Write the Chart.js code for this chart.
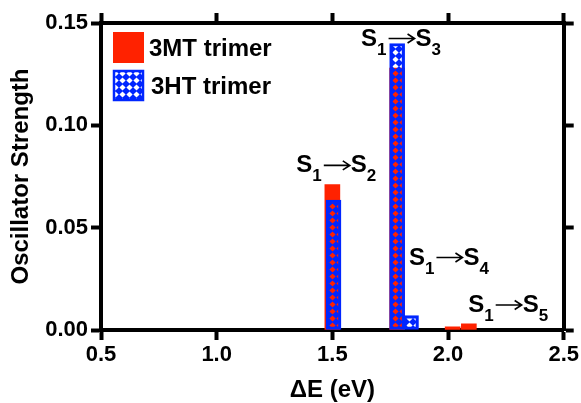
<!DOCTYPE html>
<html>
<head>
<meta charset="utf-8">
<script src="https://cdn.jsdelivr.net/npm/chart.js@4.4.0/dist/chart.umd.min.js"></script>
<style>
    html, body { margin: 0; padding: 0; background: #fff; }
</style>
</head>
<body>
<canvas id="oscChart" width="581" height="403"></canvas>
<script>
var seriesNames = ['3MT trimer', '3HT trimer'];
var mtEnergy = [1.50, 1.78, 2.02, 2.09];
var mtStrength = [0.071, 0.128, 0.0015, 0.003];
var htEnergy = [1.505, 1.78, 1.84];
var htStrength = [0.0635, 0.140, 0.007];
var xTickValues = [0.5, 1.0, 1.5, 2.0, 2.5];
var xTickLabels = ['0.5', '1.0', '1.5', '2.0', '2.5'];
var yTickValues = [0, 0.05, 0.10, 0.15];
var yTickLabels = ['0.00', '0.05', '0.10', '0.15'];
var transFrom = ['1', '1', '1', '1'];
var transTo = ['2', '3', '4', '5'];

var RED = '#ff2200';
var BLUE = '#0026ff';
var FONT = '"Liberation Sans", Arial, sans-serif';

Chart.defaults.font.family = FONT;
Chart.defaults.font.weight = 'bold';
Chart.defaults.color = '#000';

var canvas = document.getElementById('oscChart');
var ctx = canvas.getContext('2d');

// blue lattice with see-through diamond holes
function makeHatch(color) {
    var c = document.createElement('canvas');
    c.width = 7;
    c.height = 7;
    var g = c.getContext('2d');
    g.fillStyle = color;
    g.fillRect(0, 0, 7, 7);
    g.globalCompositeOperation = 'destination-out';
    g.beginPath();
    g.moveTo(3.5, 0.4);
    g.lineTo(6.6, 3.5);
    g.lineTo(3.5, 6.6);
    g.lineTo(0.4, 3.5);
    g.closePath();
    g.fill();
    return ctx.createPattern(c, 'repeat');
}
var hatch = makeHatch(BLUE);

function points(xs, ys) {
    return xs.map(function (x, i) { return { x: x, y: ys[i] }; });
}

// labels like S1->S2 placed in data units
var transitionLabels = {
    id: 'transitionLabels',
    afterDatasetsDraw: function (chart, args, opts) {
        var c = chart.ctx;
        var xs = chart.scales.x, ys = chart.scales.y;
        var big = 'bold 24px ' + FONT;
        var small = 'bold 17px ' + FONT;
        c.save();
        c.fillStyle = '#000';
        c.strokeStyle = '#000';
        c.textBaseline = 'alphabetic';
        c.textAlign = 'left';
        opts.items.forEach(function (it, i) {
            c.font = big;
            var wS = c.measureText('S').width;
            c.font = small;
            var wA = c.measureText(transFrom[i]).width;
            var wB = c.measureText(transTo[i]).width;
            var arrowW = 27, gap = 2;
            var total = wS + wA + gap + arrowW + wS + wB;
            var x = xs.getPixelForValue(it.x) - total / 2;
            var y = ys.getPixelForValue(it.y);
            c.font = big;
            c.fillText('S', x, y);
            x += wS;
            c.font = small;
            c.fillText(transFrom[i], x, y + 9);
            x += wA + gap;
            var ay = y - 7;
            c.lineWidth = 1.6;
            c.beginPath();
            c.moveTo(x, ay);
            c.lineTo(x + arrowW - 1, ay);
            c.moveTo(x + arrowW - 8, ay - 4.5);
            c.lineTo(x + arrowW - 1, ay);
            c.lineTo(x + arrowW - 8, ay + 4.5);
            c.stroke();
            x += arrowW;
            c.font = big;
            c.fillText('S', x, y);
            x += wS;
            c.font = small;
            c.fillText(transTo[i], x, y + 9);
        });
        c.restore();
    }
};

// legend boxes inside the plot, top left
var boxLegend = {
    id: 'boxLegend',
    afterDraw: function (chart) {
        var c = chart.ctx;
        var x0 = chart.chartArea.left + 12;
        var y0 = chart.chartArea.top + 9;
        c.save();
        c.font = 'bold 24px ' + FONT;
        c.textBaseline = 'middle';
        c.textAlign = 'left';
        chart.data.datasets.forEach(function (ds, i) {
            var y = y0 + i * 38;
            c.fillStyle = '#fff';
            c.fillRect(x0, y, 31, 31);
            c.fillStyle = ds.backgroundColor;
            c.fillRect(x0, y, 31, 31);
            if (ds.borderWidth) {
                c.strokeStyle = ds.borderColor;
                c.lineWidth = ds.borderWidth;
                c.strokeRect(x0 + 1, y + 1, 29, 29);
            }
            c.fillStyle = '#000';
            c.fillText(ds.label, x0 + 36 + i * 2, y + 17);
        });
        c.restore();
    }
};

function edgeAxis(extra) {
    var base = {
        type: 'linear',
        offset: false,
        border: { display: true, color: '#000', width: 4 },
        grid: {
            display: true,
            offset: false,
            drawOnChartArea: false,
            drawTicks: true,
            tickLength: 10,
            tickWidth: 4,
            tickColor: '#000'
        },
        ticks: { display: false }
    };
    return Object.assign(base, extra);
}

var oscChart = new Chart(ctx, {
    type: 'bar',
    data: {
        datasets: [
            {
                label: seriesNames[0],
                data: points(mtEnergy, mtStrength),
                backgroundColor: RED,
                borderWidth: 0,
                barThickness: 15,
                grouped: false,
                order: 2
            },
            {
                label: seriesNames[1],
                data: points(htEnergy, htStrength),
                backgroundColor: hatch,
                borderColor: BLUE,
                borderWidth: 2.5,
                borderSkipped: false,
                barThickness: 15,
                grouped: false,
                order: 1
            }
        ]
    },
    options: {
        responsive: false,
        animation: false,
        devicePixelRatio: 1,
        layout: { padding: 0 },
        scales: {
            x: edgeAxis({
                position: 'bottom',
                min: 0.5,
                max: 2.5,
                z: 1,
                afterFit: function (s) { s.height = 73; },
                afterBuildTicks: function (s) {
                    s.ticks = xTickValues.map(function (v) { return { value: v }; });
                },
                ticks: {
                    display: true,
                    color: '#000',
                    padding: 2,
                    maxRotation: 0,
                    autoSkip: false,
                    font: { size: 22, weight: 'bold' },
                    callback: function (v, i) { return xTickLabels[i]; }
                },
                title: {
                    display: true,
                    text: 'ΔE (eV)',
                    color: '#000',
                    font: { size: 24, weight: 'bold', lineHeight: 1 },
                    padding: { top: 0, bottom: 1 }
                }
            }),
            x2: edgeAxis({
                position: 'top',
                min: 0.5,
                max: 2.5,
                z: 1,
                afterFit: function (s) { s.height = 23; },
                afterBuildTicks: function (s) {
                    s.ticks = xTickValues.map(function (v) { return { value: v }; });
                }
            }),
            y: edgeAxis({
                position: 'left',
                min: 0,
                max: 0.15,
                z: 1,
                afterFit: function (s) { s.width = 101; },
                afterBuildTicks: function (s) {
                    s.ticks = yTickValues.map(function (v) { return { value: v }; });
                },
                ticks: {
                    display: true,
                    color: '#000',
                    padding: 3,
                    autoSkip: false,
                    font: { size: 22, weight: 'bold' },
                    callback: function (v, i) { return yTickLabels[i]; }
                },
                title: {
                    display: true,
                    text: 'Oscillator Strength',
                    color: '#000',
                    font: { size: 24, weight: 'bold', lineHeight: 1 },
                    padding: { top: 9, bottom: 0 }
                }
            }),
            y2: edgeAxis({
                position: 'right',
                min: 0,
                max: 0.15,
                z: 1,
                afterFit: function (s) { s.width = 17; },
                afterBuildTicks: function (s) {
                    s.ticks = yTickValues.map(function (v) { return { value: v }; });
                }
            })
        },
        plugins: {
            legend: { display: false },
            tooltip: { enabled: false },
            transitionLabels: {
                items: [
                    { x: 1.517, y: 0.077 },
                    { x: 1.797, y: 0.139 },
                    { x: 2.004, y: 0.032 },
                    { x: 2.26, y: 0.0088 }
                ]
            }
        }
    },
    plugins: [transitionLabels, boxLegend]
});
</script>
</body>
</html>
